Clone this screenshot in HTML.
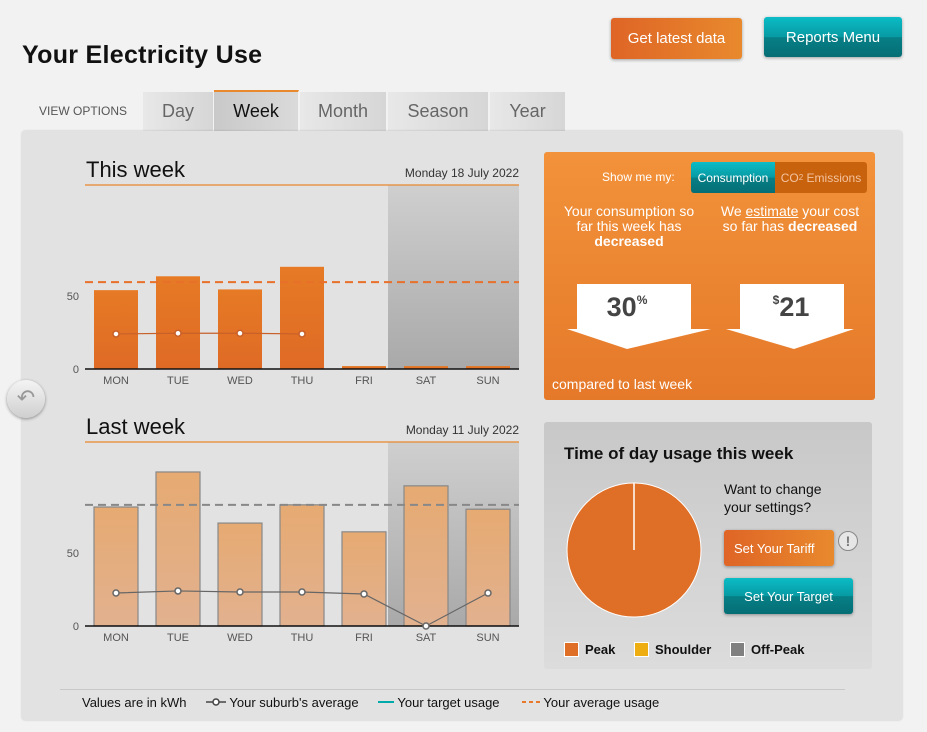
<!DOCTYPE html>
<html><head><meta charset="utf-8">
<style>
body{margin:0;width:927px;height:732px;background:#f2f2f2;font-family:"Liberation Sans",sans-serif;position:relative;overflow:hidden}
.abs{position:absolute}
.btn{position:absolute;color:#fff;font-size:14px;display:flex;align-items:center;justify-content:center;border-radius:3px;box-shadow:0 1px 3px rgba(0,0,0,.35)}
.or{background:linear-gradient(90deg,#df6526,#e8892d)}
.tl{background:linear-gradient(#0bbcc6 0%,#079aa3 50%,#077f86 51%,#066e75 100%)}
.tab{position:absolute;top:92px;height:39px;background:linear-gradient(90deg,#e8e8e8,#d6d6d6);color:#666;font-size:18px;display:flex;align-items:center;justify-content:center;border-right:1px solid #f2f2f2}
</style></head><body>
<div class="abs" style="left:22px;top:41px;font-size:25px;font-weight:bold;color:#111;letter-spacing:0.3px">Your Electricity Use</div>
<div class="btn or" style="left:611px;top:18px;width:131px;height:41px;font-size:15px">Get latest data</div>
<div class="btn tl" style="left:764px;top:17px;width:138px;height:40px;font-size:15px">Reports Menu</div>
<div class="abs" style="left:39px;top:104px;font-size:12px;color:#555">VIEW OPTIONS</div>
<div class="tab" style="left:143px;width:70px">Day</div>
<div class="tab" style="left:214px;width:84px;background:linear-gradient(90deg,#c9c9c9,#dadada);color:#111;border-top:2px solid #e8892d;top:90px">Week</div>
<div class="tab" style="left:300px;width:86px">Month</div>
<div class="tab" style="left:388px;width:100px">Season</div>
<div class="tab" style="left:490px;width:75px">Year</div>
<div class="abs" style="left:22px;top:131px;width:880px;height:589px;background:#e2e2e2;border-radius:3px;box-shadow:0 0 2px rgba(0,0,0,.2)"></div>

<div class="abs" style="left:544px;top:152px;width:331px;height:248px;background:linear-gradient(#f2923a,#e5792a);border-radius:3px;color:#fff">
 <div class="abs" style="left:58px;top:18px;font-size:12px">Show me my:</div>
 <div class="abs" style="left:147px;top:10px;width:176px;height:31px;background:#c9620c;border-radius:3px;overflow:hidden">
  <div class="abs tl" style="left:0;top:0;width:84px;height:31px;font-size:12px;display:flex;align-items:center;justify-content:center">Consumption</div>
  <div class="abs" style="left:84px;top:0;width:92px;height:31px;font-size:12px;display:flex;align-items:center;justify-content:center;color:#f3c3a0">CO<sub style="font-size:8px">2</sub>&nbsp;Emissions</div>
 </div>
 <div class="abs" style="left:12px;top:52px;width:146px;text-align:center;font-size:14px;line-height:15px">Your consumption so far this week has <b>decreased</b></div>
 <div class="abs" style="left:170px;top:52px;width:152px;text-align:center;font-size:14px;line-height:15px">We <u>estimate</u> your cost so far has <b>decreased</b></div>
 <svg class="abs" style="left:0;top:0" width="331" height="248">
  <polygon points="33,132 147,132 147,177 167,177 83,197 23,177 33,177" fill="#fff"/>
  <polygon points="196,132 300,132 300,177 310,177 250,197 182,177 196,177" fill="#fff"/>
  <text x="83" y="164" text-anchor="middle" font-size="27" font-weight="bold" fill="#444" font-family="Liberation Sans">30<tspan font-size="12" dy="-12">%</tspan></text>
  <text x="247" y="164" text-anchor="middle" font-size="27" font-weight="bold" fill="#444" font-family="Liberation Sans"><tspan font-size="12" dy="-12">$</tspan><tspan dy="12">21</tspan></text>
 </svg>
 <div class="abs" style="left:8px;top:224px;font-size:14px">compared to last week</div>
</div>

<div class="abs" style="left:544px;top:422px;width:328px;height:247px;background:linear-gradient(#c8c8c8,#dcdcdc);border-radius:3px">
 <div class="abs" style="left:20px;top:22px;font-size:17px;font-weight:bold;color:#111">Time of day usage this week</div>
 <div class="abs" style="left:180px;top:58px;font-size:14px;line-height:18px;color:#111">Want to change<br>your settings?</div>
 <div class="btn or" style="left:180px;top:108px;width:110px;height:36px;justify-content:flex-start;padding-left:10px;box-sizing:border-box;font-size:13px">Set Your Tariff</div>
 <div class="abs" style="left:294px;top:109px;width:18px;height:18px;border-radius:50%;border:1px solid #888;background:#e6e6e6;color:#777;font-weight:bold;font-size:14px;text-align:center;line-height:18px">!</div>
 <div class="btn tl" style="left:180px;top:156px;width:129px;height:36px;font-size:13px">Set Your Target</div>
 <svg class="abs" style="left:0;top:0" width="328" height="247">
  <circle cx="90" cy="128" r="67" fill="#df6f26" stroke="#fff" stroke-width="1"/>
  <line x1="90" y1="61" x2="90" y2="128" stroke="#fff" stroke-width="1.5"/>
 </svg>
 <div class="abs" style="left:20px;top:220px;font-size:13px;font-weight:bold;color:#111"><span style="display:inline-block;width:13px;height:13px;background:#df6f26;border:1px solid #fff;vertical-align:-3px;margin-right:6px"></span>Peak</div>
 <div class="abs" style="left:90px;top:220px;font-size:13px;font-weight:bold;color:#111"><span style="display:inline-block;width:13px;height:13px;background:#eeae12;border:1px solid #fff;vertical-align:-3px;margin-right:6px"></span>Shoulder</div>
 <div class="abs" style="left:186px;top:220px;font-size:13px;font-weight:bold;color:#111"><span style="display:inline-block;width:13px;height:13px;background:#808080;border:1px solid #fff;vertical-align:-3px;margin-right:6px"></span>Off-Peak</div>
</div>

<div class="abs" style="left:7px;top:380px;width:38px;height:38px;border-radius:50%;background:linear-gradient(#f4f4f4,#cfcfcf);box-shadow:0 1px 3px rgba(0,0,0,.4);color:#999;font-size:22px;text-align:center;line-height:36px">&#x21B6;</div>

<div class="abs" style="left:60px;top:689px;width:785px;height:1px;background:#c8c8c8"></div>
<div class="abs" style="left:82px;top:695px;font-size:13px;color:#111">Values are in kWh</div>
<div class="abs" style="left:206px;top:695px;font-size:13px;color:#111"><svg width="20" height="10" style="vertical-align:0"><line x1="0" y1="5" x2="20" y2="5" stroke="#444" stroke-width="1.5"/><circle cx="10" cy="5" r="3" fill="#fff" stroke="#444" stroke-width="1.5"/></svg> Your suburb's average</div>
<div class="abs" style="left:378px;top:695px;font-size:13px;color:#111"><svg width="16" height="10"><line x1="0" y1="5" x2="16" y2="5" stroke="#0aa" stroke-width="2"/></svg> Your target usage</div>
<div class="abs" style="left:522px;top:695px;font-size:13px;color:#111"><svg width="18" height="10"><line x1="0" y1="5" x2="18" y2="5" stroke="#e8792a" stroke-width="2" stroke-dasharray="4,3"/></svg> Your average usage</div>

<svg id="charts" class="abs" style="left:0;top:0" width="927" height="732">
 <defs>
  <linearGradient id="shade" x1="0" y1="0" x2="0" y2="1"><stop offset="0" stop-color="#cfcfcf"/><stop offset="1" stop-color="#a9a9a9"/></linearGradient>
  <linearGradient id="barA" x1="0" y1="0" x2="0" y2="1"><stop offset="0" stop-color="#e67a25"/><stop offset="1" stop-color="#df6a25"/></linearGradient>
  <linearGradient id="barB" x1="0" y1="0" x2="0" y2="1"><stop offset="0" stop-color="#e6aa72"/><stop offset="1" stop-color="#e2b18f"/></linearGradient>
 </defs>
</svg>
<script>
const days=["MON","TUE","WED","THU","FRI","SAT","SUN"];
const thisWeekValues=[54,63.5,54.5,70,2,2,2];
const thisWeekSuburb=[24,24.5,24.5,24,null,null,null];
const thisWeekAverage=59.5;
const lastWeekValues=[81.5,105.5,70.5,83,64.5,96,80];
const lastWeekSuburb=[22.6,24,23.3,23.3,21.9,0,22.6];
const lastWeekAverage=83;
const yTicks=[0,50];
const svg=document.getElementById('charts');
const NS='http://www.w3.org/2000/svg';
function mk(t,a,p){const e=document.createElementNS(NS,t);for(const k in a)e.setAttribute(k,a[k]);(p||svg).appendChild(e);return e;}
const X0=85,X1=519,slot=(X1-X0)/7,pxPer=73/50;
function xS(i){return X0+slot*i+slot/2;}
function drawChart(top,base,title,date,vals,sub,avg,fill,stroke,dash,lineCol,key){
 const yS=v=>base-v*pxPer;
 let t=mk('text',{x:86,y:top-8,'font-size':22,fill:'#111','font-family':'Liberation Sans'});t.textContent=title;
 
 t=mk('text',{x:X1,y:top-8,'font-size':12,fill:'#333','text-anchor':'end','font-family':'Liberation Sans'});t.textContent=date;
 
 let r=mk('rect',{x:388,y:top,width:X1-388,height:base-top,fill:'url(#shade)'});
 
 mk('line',{x1:X0,x2:X1,y1:top,y2:top,stroke:'#e8892d','stroke-width':1.2});
 yTicks.forEach(v=>{const l=mk('text',{x:79,y:yS(v)+4,'font-size':11,fill:'#555','text-anchor':'end','font-family':'Liberation Sans'});l.textContent=v;
  });
 vals.forEach((v,i)=>{const b=mk('rect',{x:xS(i)-22,y:yS(v),width:44,height:v*pxPer,fill:fill});
  if(stroke){b.setAttribute('stroke',stroke);b.setAttribute('stroke-width',1.2);}
  
  const l=mk('text',{x:xS(i),y:base+15,'font-size':11,fill:'#555','text-anchor':'middle','font-family':'Liberation Sans'});l.textContent=days[i];
  });
 const al=mk('line',{x1:X0,x2:X1,y1:yS(avg),y2:yS(avg),stroke:dash,'stroke-width':2,'stroke-dasharray':'8,5'});
 
 mk('line',{x1:X0,x2:X1,y1:base,y2:base,stroke:'#111','stroke-width':1.5});
 const pts=[];sub.forEach((v,i)=>{if(v!==null)pts.push([xS(i),yS(v)]);});
 const pl=mk('polyline',{points:pts.map(p=>p.join(',')).join(' '),fill:'none',stroke:lineCol,'stroke-width':1.2});
 
 pts.forEach(p=>{const c=mk('circle',{cx:p[0],cy:p[1],r:3,fill:'#fff',stroke:lineCol,'stroke-width':1.5});
  });
}
drawChart(185,369,'This week','Monday 18 July 2022',thisWeekValues,thisWeekSuburb,thisWeekAverage,'url(#barA)',null,'#e8702a','#c8602a','this-week');
drawChart(442,626,'Last week','Monday 11 July 2022',lastWeekValues,lastWeekSuburb,lastWeekAverage,'url(#barB)','#888','#888','#666','last-week');
</script>
</body></html>
